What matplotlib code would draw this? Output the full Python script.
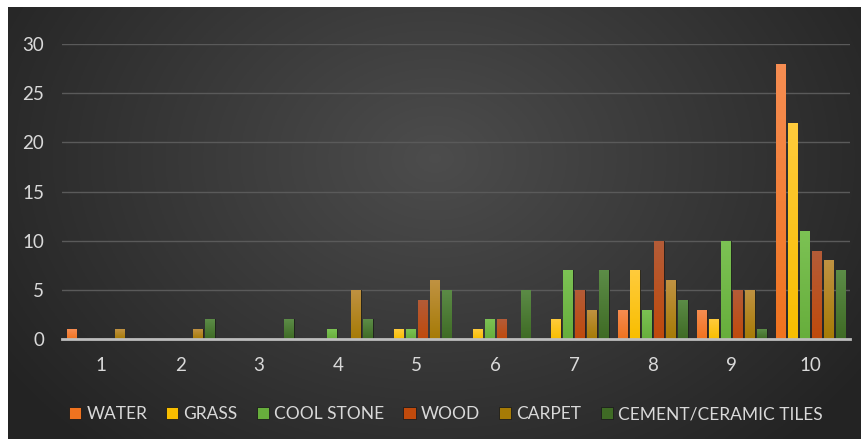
import matplotlib.pyplot as plt
import numpy as np
from matplotlib.colors import LinearSegmentedColormap

categories = ['1', '2', '3', '4', '5', '6', '7', '8', '9', '10']
series = ['WATER', 'GRASS', 'COOL STONE', 'WOOD', 'CARPET', 'CEMENT/CERAMIC TILES']
water = [1, 0, 0, 0, 0, 0, 0, 3, 3, 28]
grass = [0, 0, 0, 0, 1, 1, 2, 7, 2, 22]
cool_stone = [0, 0, 0, 1, 1, 2, 7, 3, 10, 11]
wood = [0, 0, 0, 0, 4, 2, 5, 10, 5, 9]
carpet = [1, 1, 0, 5, 6, 0, 3, 6, 5, 8]
cement = [0, 2, 2, 2, 5, 5, 7, 4, 1, 7]
values = [water, grass, cool_stone, wood, carpet, cement]

# bottom / top colours of the bar gradients
colors = ['#F0731F', '#F8BE00', '#67AE3C', '#C04A0C', '#A67B06', '#3F6B25']
top_colors = ['#F68D52', '#FFCB3C', '#7CC254', '#B45C38', '#C09242', '#5C8C47']

plt.rcParams['font.family'] = ['Lato', 'DejaVu Sans']

fig = plt.figure(figsize=(8.62, 4.43), dpi=100)
fig.patch.set_facecolor('white')

# dark radial background
bg = fig.add_axes([8 / 862, 4 / 443, 854 / 862, 432 / 443])
yy, xx = np.mgrid[0:1:200j, 0:1:400j]
r = np.sqrt(((xx - 0.5) / 0.6) ** 2 + ((yy - 0.35) / 0.9) ** 2)
shade = 0.30 - 0.16 * np.clip(r, 0, 1)
bg.imshow(np.dstack([shade] * 3), aspect='auto', extent=[0, 1, 0, 1])
bg.axis('off')

ax = fig.add_axes([62 / 862, 1 - 339 / 443, 788 / 862, 295 / 443])
ax.patch.set_alpha(0)
x = np.arange(len(categories))
step = 0.152
width = 0.122
grad = np.linspace(1, 0, 64).reshape(-1, 1)
for i, (name, vals) in enumerate(zip(series, values)):
    bars = ax.bar(x + (i - 2.5) * step, vals, width=width, color=colors[i],
                  edgecolor='#1c1c1c', linewidth=0.6, label=name, zorder=3)
    cmap = LinearSegmentedColormap.from_list(name, [colors[i], top_colors[i]])
    for b in bars:
        if b.get_height() <= 0:
            continue
        bx, by = b.get_x(), b.get_y()
        im = ax.imshow(grad, cmap=cmap, aspect='auto', zorder=3.5,
                       extent=[bx, bx + b.get_width(), by, by + b.get_height()],
                       vmin=0, vmax=1)
        im.set_clip_path(b)

ax.set_xlim(-0.5, len(categories) - 0.5)
ax.set_ylim(0, 30)
ax.set_yticks(range(0, 31, 5))
ax.set_xticks(x)
ax.set_xticklabels(categories)
ax.yaxis.grid(True, color='#5a5a5a', linewidth=1, zorder=0)
for s in ['top', 'right', 'left']:
    ax.spines[s].set_visible(False)
ax.spines['bottom'].set_color('#bdbdbd')
ax.spines['bottom'].set_linewidth(2)
ax.spines['bottom'].set_zorder(4)
ax.tick_params(length=0, colors='#d9d9d9', labelsize=13.5)
ax.tick_params(axis='x', pad=13)
ax.tick_params(axis='y', pad=13)

ax.legend(loc='center', bbox_to_anchor=(0.487, -0.255), ncol=6, frameon=False,
          labelcolor='#d9d9d9', fontsize=12.5, handlelength=0.7, handleheight=0.7,
          handletextpad=0.3, columnspacing=1.1)

plt.savefig('out.png', dpi=100)
